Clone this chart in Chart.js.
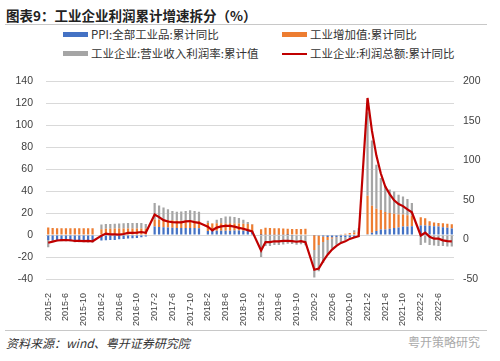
<!DOCTYPE html>
<html><head><meta charset="utf-8">
<script src="https://cdn.jsdelivr.net/npm/chart.js@4"></script>
<style>
body{margin:0;width:500px;height:361px;background:#fff;position:relative;overflow:hidden;font-family:"Noto Sans CJK SC","Noto Sans",sans-serif;}
#title{position:absolute;left:6px;top:5px;font-size:13.5px;font-weight:bold;color:#222;white-space:nowrap;line-height:20px;}
.hr{position:absolute;left:5px;width:482px;height:1px;background:#c8c8c8;}
.lg{position:absolute;font-size:11.5px;color:#333;white-space:nowrap;line-height:14px;}
.sw{display:inline-block;width:25px;height:5px;vertical-align:middle;margin-right:3px;position:relative;top:-1px;}
.ln{display:inline-block;width:25px;height:2px;vertical-align:middle;margin-right:3px;background:#C00000;position:relative;top:-1px;}
#src{position:absolute;left:6px;top:334px;font-size:12px;font-style:italic;color:#333;white-space:nowrap;}
#wm{position:absolute;left:408px;top:333px;font-size:12px;color:#aaa;white-space:nowrap;}
#cv{position:absolute;left:0;top:62px;}
</style></head><body>
<div id="title">图表9：工业企业利润累计增速拆分（%）</div>
<div class="hr" style="top:24px"></div>
<div class="lg" style="left:63px;top:27px"><span class="sw" style="background:#4472C4"></span>PPI:全部工业品:累计同比</div>
<div class="lg" style="left:282px;top:27px"><span class="sw" style="background:#ED7D31"></span>工业增加值:累计同比</div>
<div class="lg" style="left:63px;top:46px"><span class="sw" style="background:#A5A5A5"></span>工业企业:营业收入利润率:累计值</div>
<div class="lg" style="left:282px;top:46px"><span class="ln"></span>工业企业:利润总额:累计同比</div>
<canvas id="cv" width="500" height="268"></canvas>
<div class="hr" style="top:330px"></div>
<div id="src">资料来源：wind、粤开证券研究院</div>
<div id="wm">粤开策略研究</div>
<script>
// categories: 2015-2 ... 2022-9 (monthly, January included with no data)
const categories = [];
for (let y = 2015; y <= 2022; y++) {
  for (let m = 1; m <= 12; m++) {
    if (y === 2015 && m === 1) continue;
    if (y === 2022 && m > 9) continue;
    categories.push(y + '-' + m);
  }
}
const N = null;
const ppi = [
 -4.6,-4.6,-4.6,-4.6,-4.7,-4.8,-5.0,-5.0,-5.1,-5.2,-5.2, N,
 -4.9,-4.8,-4.6,-4.4,-3.9,-3.5,-3.1,-2.9,-2.6,-2.0,-1.4, N,
 7.8,7.4,7.2,7.0,6.6,6.4,6.4,6.5,6.5,6.4,6.3, N,
 3.7,3.8,3.9,3.9,3.9,4.0,4.1,4.1,4.0,3.8,3.5, N,
 0.1,0.2,0.3,0.3,0.3,0.2,0.1,-0.1,-0.3,-0.3,-0.3, N,
 -0.2,-0.6,-1.3,-1.7,-1.9,-2.0,-2.0,-2.0,-2.0,-1.9,-1.8, N,
 0.8,2.1,3.7,5.0,5.1,5.8,6.4,6.9,7.8,7.9,8.1, N,
 8.8,8.7,8.5,8.1,7.7,7.2,6.6,5.9
];
const iva = [
 6.8,6.4,6.2,6.2,6.3,6.3,6.3,6.2,6.1,6.1,6.1, N,
 5.4,5.8,5.8,5.9,6.0,6.0,6.0,6.0,6.0,6.0,6.0, N,
 6.3,6.8,6.7,6.7,6.9,6.8,6.7,6.7,6.7,6.6,6.6, N,
 7.2,6.8,6.9,6.9,6.7,6.7,6.5,6.4,6.4,6.3,6.2, N,
 5.3,6.5,6.2,6.0,6.0,5.8,5.6,5.6,5.6,5.6,5.7, N,
 -13.5,-8.4,-4.9,-2.8,-1.3,-0.4,0.4,1.2,1.8,2.3,2.8, N,
 35.1,24.5,20.3,17.8,15.9,14.4,13.1,11.8,10.9,10.1,9.6, N,
 7.5,6.5,4.0,3.3,3.4,3.5,3.6,3.9
];
const margin = [
 -6.5,-1.5,-1,-1,-1,-1,-1.5,-1.5,-1.5,-1.5,-1.5, N,
 4.3,4.2,4.3,4.4,4.5,4.7,4.9,5.0,5.0,4.9,4.0, N,
 15.2,12.8,11.1,9.8,8.5,8.0,8.3,8.8,9.3,9.0,8.3, N,
 2.1,0.2,3.1,4.7,6.4,6.3,5.9,5.0,3.6,1.9,0.3, N,
 -20,-10,-10,-9,-9,-8.5,-8,-8,-8.5,-8,-9, N,
 -25,-24,-19,-13,-9,-6.5,-4.5,-2.5,-1,2,3.5, N,
 76,59.4,40,29.2,24,21.4,20.1,17.9,16.5,14.8,11.6, N,
 -9,-7,-9,-9.5,-10,-10,-10.5,-10.5
];
const profit = [
 -4.2,-2.7,-1.3,-0.8,-0.7,-1.0,-1.9,-1.7,-2.0,-1.9,-2.3, N,
 4.8,7.4,6.5,6.4,6.2,6.9,8.4,8.4,8.6,9.4,8.5, N,
 31.5,28.3,24.4,22.7,22.0,21.6,21.6,22.8,23.3,21.9,21.0, N,
 16.1,11.6,15.0,16.5,17.2,17.1,16.2,14.7,13.6,11.8,10.3, N,
 -14.0,-3.3,-3.4,-2.3,-2.4,-1.7,-1.7,-2.1,-2.9,-2.1,-3.3, N,
 -38.3,-36.7,-27.4,-19.3,-12.8,-8.1,-4.4,-2.4,0.7,2.4,4.1, N,
 178.9,137.3,106.0,83.4,66.9,57.3,49.5,44.7,42.2,38.0,34.3, N,
 5.0,8.5,3.5,1.0,1.0,-1.1,-2.1,-2.3
];
const leftTicks = {min:-40, max:140, step:20};
const rightTicks = {min:-50, max:200, step:50};

const tickFont = {family:'"Liberation Sans", Arial, sans-serif', size:10.5};
const bar = (label, data, color) => ({type:'bar', label, data, backgroundColor:color, borderWidth:0,
  yAxisID:'y', stack:'s', order:1, categoryPercentage:1.0, barPercentage:0.5});
new Chart(document.getElementById('cv'), {
  data: {
    labels: categories,
    datasets: [
      bar('PPI:全部工业品:累计同比', ppi, '#4472C4'),
      bar('工业增加值:累计同比', iva, '#ED7D31'),
      bar('工业企业:营业收入利润率:累计值', margin, '#A5A5A5'),
      {type:'line', label:'工业企业:利润总额:累计同比', data:profit, yAxisID:'y1', order:0,
       borderColor:'#C00000', borderWidth:2.2, pointRadius:0, tension:0, spanGaps:true, fill:false}
    ]
  },
  options: {
    responsive:false, animation:false,
    layout:{padding:{top:12, left:0, right:0, bottom:0}},
    plugins:{legend:{display:false}, tooltip:{enabled:false}},
    scales:{
      x:{stacked:true, grid:{display:false}, border:{display:false},
         afterFit:s=>{s.height=51;},
         ticks:{autoSkip:false, maxRotation:90, minRotation:90, padding:6, color:'#404040',
           font:{family:'"Liberation Sans", Arial, sans-serif', size:9},
           callback:(v,i)=> i%4===0 ? categories[i] : ''}},
      y:{stacked:true, position:'left', min:leftTicks.min, max:leftTicks.max,
         grid:{color:'#D9D9D9', lineWidth:1, drawTicks:false}, border:{display:false},
         afterFit:s=>{s.width=46;},
         ticks:{stepSize:leftTicks.step, padding:13, color:'#404040', font:tickFont}},
      y1:{stacked:false, position:'right', min:rightTicks.min, max:rightTicks.max,
         grid:{display:false, drawTicks:false}, border:{display:false},
         afterFit:s=>{s.width=46;},
         ticks:{stepSize:rightTicks.step, padding:9, color:'#404040', font:tickFont}}
    }
  }
});
</script>
</body></html>
